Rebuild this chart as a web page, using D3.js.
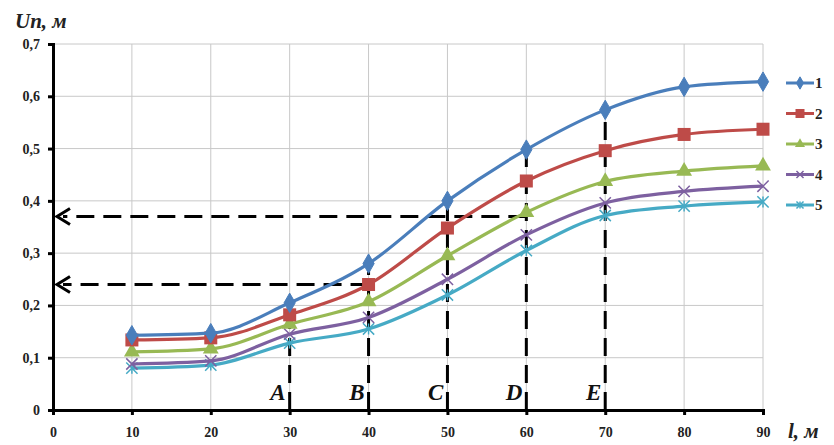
<!DOCTYPE html>
<html>
<head>
<meta charset="utf-8">
<script src="https://cdn.jsdelivr.net/npm/d3@7"></script>
<style>
  body { margin: 0; background: #fff; }
  svg text { font-family: "Liberation Serif", "DejaVu Serif", serif; font-weight: bold; }
</style>
</head>
<body>
<div id="chart"></div>
<script>
// distance, m
var distances = [10, 20, 30, 40, 50, 60, 70, 80, 90];
var seriesNames = ['1', '2', '3', '4', '5'];
var s1 = [0.143, 0.147, 0.205, 0.28, 0.40, 0.498, 0.574, 0.618, 0.628];
var s2 = [0.134, 0.138, 0.182, 0.240, 0.348, 0.438, 0.496, 0.527, 0.537];
var s3 = [0.111, 0.117, 0.164, 0.207, 0.295, 0.378, 0.437, 0.457, 0.467];
var s4 = [0.088, 0.094, 0.145, 0.177, 0.250, 0.335, 0.396, 0.418, 0.428];
var s5 = [0.080, 0.086, 0.128, 0.155, 0.220, 0.305, 0.372, 0.390, 0.398];
var xTicks = [0, 10, 20, 30, 40, 50, 60, 70, 80, 90];
var yTicks = [0, 0.1, 0.2, 0.3, 0.4, 0.5, 0.6, 0.7];
// vertical guides A..E and horizontal arrows
var guideX = [30, 40, 50, 60, 70];
var guideTop = [0.205, 0.28, 0.40, 0.498, 0.574];
var guideLabels = ['A', 'B', 'C', 'D', 'E'];
var arrowLevels = [0.37, 0.24];
var arrowEnds = [60, 40];

var colors = ['#4a7ebb', '#be4b48', '#98b954', '#7d60a0', '#46aac5'];
var markers = ['diamond', 'square', 'triangle', 'x', 'star'];
var allSeries = [s1, s2, s3, s4, s5];

var W = 834, H = 445;
var margin = {left: 53, right: 71, top: 44, bottom: 35};

var x = d3.scaleLinear().domain([0, 90]).range([margin.left, W - margin.right]);
var y = d3.scaleLinear().domain([0, 0.7]).range([H - margin.bottom, margin.top]);

var svg = d3.select('#chart').append('svg')
    .attr('width', W).attr('height', H);

// grid
svg.append('g').selectAll('line.v').data(xTicks.slice(1)).enter().append('line')
    .attr('x1', d => x(d)).attr('x2', d => x(d))
    .attr('y1', y(0)).attr('y2', y(0.7))
    .attr('stroke', '#c8c8c8').attr('stroke-width', 1);
svg.append('g').selectAll('line.h').data(yTicks.slice(1)).enter().append('line')
    .attr('x1', x(0)).attr('x2', x(90))
    .attr('y1', d => y(d)).attr('y2', d => y(d))
    .attr('stroke', '#c8c8c8').attr('stroke-width', 1);

// axes
var fmt = d => d3.format('.1f')(d).replace('.', ',').replace(/^0,0$/, '0');
var yAxis = svg.append('g').attr('transform', 'translate(' + x(0) + ',0)')
    .call(d3.axisLeft(y).tickValues(yTicks).tickSize(5).tickPadding(8).tickFormat(fmt));
var xAxis = svg.append('g').attr('transform', 'translate(0,' + y(0) + ')')
    .call(d3.axisBottom(x).tickValues(xTicks).tickSize(5).tickPadding(12).tickFormat(d3.format('d')));
[xAxis, yAxis].forEach(a => {
  a.select('.domain').attr('stroke', '#000').attr('stroke-width', 3);
  a.selectAll('.tick line').attr('stroke', '#000').attr('stroke-width', 3);
  a.selectAll('text').attr('font-size', 14).attr('fill', '#222')
    .attr('font-family', '"Liberation Serif", serif').attr('font-weight', 'bold');
});
yAxis.selectAll('.tick line').attr('x1', 2);

// guides
var dash = '18,9';
svg.append('g').selectAll('line').data(guideX).enter().append('line')
    .attr('x1', d => x(d)).attr('x2', d => x(d))
    .attr('y1', y(0)).attr('y2', (d, i) => y(guideTop[i]))
    .attr('stroke', '#000').attr('stroke-width', 3).attr('stroke-dasharray', dash);
svg.append('g').selectAll('text').data(guideLabels).enter().append('text')
    .attr('x', (d, i) => x(guideX[i]) - 4).attr('y', y(0) - 10)
    .attr('text-anchor', 'end').attr('font-size', 23).attr('font-style', 'italic')
    .attr('fill', '#111').text(d => d);
arrowLevels.forEach((lv, i) => {
  svg.append('line')
      .attr('x1', x(arrowEnds[i])).attr('x2', x(0) + 10)
      .attr('y1', y(lv)).attr('y2', y(lv))
      .attr('stroke', '#000').attr('stroke-width', 3).attr('stroke-dasharray', dash);
  svg.append('path')
      .attr('d', 'M' + (x(0) + 17) + ',' + (y(lv) - 8) + 'L' + (x(0) + 4) + ',' + y(lv) +
                 'L' + (x(0) + 17) + ',' + (y(lv) + 8))
      .attr('fill', 'none').attr('stroke', '#000').attr('stroke-width', 3);
});

// markers
function marker(sel, type, color, s) {
  if (type === 'diamond') {
    sel.append('path').attr('d', d3.symbol(d3.symbolDiamond, s * s * 0.9)())
      .attr('fill', color).attr('stroke', color);
  } else if (type === 'square') {
    sel.append('rect').attr('x', -s / 2 - 1).attr('y', -s / 2 - 1).attr('width', s + 2).attr('height', s + 2)
      .attr('fill', color);
  } else if (type === 'triangle') {
    sel.append('path').attr('d', d3.symbol(d3.symbolTriangle, s * s * 0.9)())
      .attr('fill', color);
  } else if (type === 'x') {
    sel.append('path').attr('d', d3.symbol(d3.symbolX, s * s * 0.7)())
      .attr('fill', 'none').attr('stroke', color).attr('stroke-width', 1.5);
  } else {
    sel.append('path').attr('d', d3.symbol(d3.symbolX, s * s * 0.7)())
      .attr('fill', 'none').attr('stroke', color).attr('stroke-width', 1.5);
    sel.append('line').attr('y1', -s / 2).attr('y2', s / 2)
      .attr('stroke', color).attr('stroke-width', 1.5);
  }
}

var line = d3.line()
    .x((d, i) => x(distances[i]))
    .y(d => y(d))
    .curve(d3.curveMonotoneX);

allSeries.slice().reverse().forEach((vals, ri) => {
  var k = allSeries.length - 1 - ri;
  var g = svg.append('g');
  g.append('path').datum(vals).attr('d', line)
    .attr('fill', 'none').attr('stroke', colors[k]).attr('stroke-width', 3.2);
  g.selectAll('g').data(vals).enter().append('g')
    .attr('transform', (d, i) => 'translate(' + x(distances[i]) + ',' + y(d) + ')')
    .each(function() { marker(d3.select(this), markers[k], colors[k], 11); });
});

// legend
var leg = svg.append('g');
seriesNames.forEach((n, k) => {
  var ly = 83 + k * 30.5;
  leg.append('line').attr('x1', 786).attr('x2', 814).attr('y1', ly).attr('y2', ly)
    .attr('stroke', colors[k]).attr('stroke-width', 3);
  var mg = leg.append('g').attr('transform', 'translate(800,' + ly + ')');
  marker(mg, markers[k], colors[k], 7);
  leg.append('text').attr('x', 815).attr('y', ly + 5).attr('font-size', 15)
    .attr('fill', '#222').text(n);
});

// axis titles
svg.append('text').attr('x', 15).attr('y', 28).attr('font-size', 21).attr('font-style', 'italic')
  .attr('fill', '#222').text('Un, м');
svg.append('text').attr('x', 788).attr('y', 438).attr('font-size', 21).attr('font-style', 'italic')
  .attr('fill', '#222').text('l, м');
</script>
</body>
</html>
